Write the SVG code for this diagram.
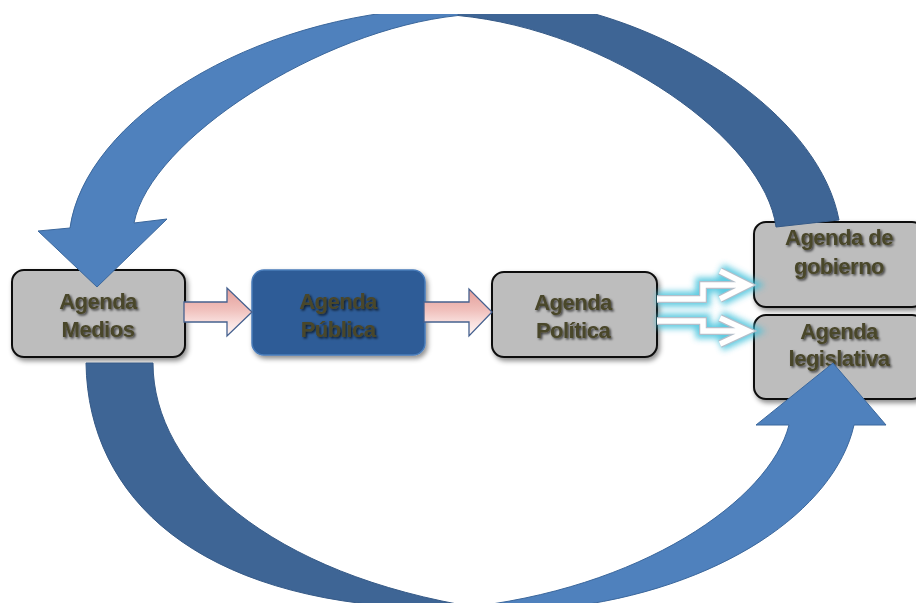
<svg xmlns="http://www.w3.org/2000/svg" width="916" height="603" viewBox="0 0 916 603">
<style>
.box{fill:#bdbdbd;stroke:#0a0a0a;stroke-width:2}
.pub{fill:#2d5c97;stroke:#4a7cba;stroke-width:1.5}
.lbl{font-family:"Liberation Sans",Arial,sans-serif;font-weight:bold;font-size:22px;letter-spacing:-0.5px;fill:#4a462a;text-anchor:middle}
.light{fill:#4f81bd;stroke:#3b679c;stroke-width:1}
.dark{fill:#3e6595;stroke:#365a87;stroke-width:1}
.pink{fill:url(#pk);stroke:#46618f;stroke-width:1.3}
.gl{fill:none;stroke:#45c2dc;stroke-width:15;opacity:0.85}
.go{fill:none;stroke:#b4bfca;stroke-width:8}
.gw{fill:none;stroke:#ffffff;stroke-width:5.5}
</style>
<defs>
<filter id="sh" x="-20%" y="-20%" width="140%" height="160%"><feDropShadow dx="2" dy="3" stdDeviation="2.5" flood-color="#000" flood-opacity="0.45"/></filter>
<filter id="ts" x="-20%" y="-30%" width="140%" height="160%"><feDropShadow dx="1.5" dy="1.5" stdDeviation="1.2" flood-color="#000" flood-opacity="0.7"/></filter>
<filter id="gf" x="-50%" y="-50%" width="200%" height="200%"><feGaussianBlur stdDeviation="3"/></filter>
<linearGradient id="pk" x1="0" y1="0" x2="0" y2="1">
<stop offset="0" stop-color="#e49e99"/>
<stop offset="0.45" stop-color="#f0c0bc"/>
<stop offset="0.72" stop-color="#f9e0de"/>
<stop offset="1" stop-color="#fdf6f5"/>
</linearGradient>
<clipPath id="clipTop"><rect x="0" y="14" width="916" height="589"/></clipPath>
</defs>
<rect width="916" height="603" fill="#ffffff"/>

<g id="agenda-medios">
<rect class="box" x="12" y="270" width="173" height="87" rx="12" filter="url(#sh)"/>
<text class="lbl" x="98" y="309" filter="url(#ts)">Agenda</text>
<text class="lbl" x="98" y="337" filter="url(#ts)">Medios</text>
</g>
<g id="agenda-publica">
<rect class="pub" x="252" y="270" width="173" height="85" rx="12" filter="url(#sh)"/>
<text class="lbl" x="338" y="309" filter="url(#ts)">Agenda</text>
<text class="lbl" x="338" y="337" filter="url(#ts)">Pública</text>
</g>
<g id="agenda-politica">
<rect class="box" x="492" y="272" width="165" height="85" rx="12" filter="url(#sh)"/>
<text class="lbl" x="573" y="310" filter="url(#ts)">Agenda</text>
<text class="lbl" x="573" y="338" filter="url(#ts)">Política</text>
</g>
<g id="agenda-gobierno">
<rect class="box" x="754" y="222" width="170" height="85" rx="12" filter="url(#sh)"/>
<text class="lbl" x="839" y="245" filter="url(#ts)">Agenda de</text>
<text class="lbl" x="839" y="274" filter="url(#ts)">gobierno</text>
</g>
<g id="agenda-legislativa">
<rect class="box" x="754" y="315" width="170" height="84" rx="12" filter="url(#sh)"/>
<text class="lbl" x="839" y="339" filter="url(#ts)">Agenda</text>
<text class="lbl" x="839" y="366" filter="url(#ts)">legislativa</text>
</g>

<g id="connectors">
<path class="pink" d="M184,302 L227,302 L227,288 L252,312 L227,336 L227,322 L184,322 Z"/>
<path class="pink" d="M424,302 L469,302 L469,289 L492,312 L469,336 L469,322 L424,322 Z"/>
<g id="glow-arrows">
<path class="gl" filter="url(#gf)" d="M657,299 H703 V285 H742 M720,271 L748,285 L720,299"/>
<path class="gl" filter="url(#gf)" d="M657,321 H703 V331 H744 M720,318 L748,331 L720,344"/>
<path class="go" d="M657,299 H703 V285 H742 M720,271 L748,285 L720,299"/>
<path class="go" d="M657,321 H703 V331 H744 M720,318 L748,331 L720,344"/>
<path class="gw" d="M657,299 H703 V285 H742 M720,271 L748,285 L720,299"/>
<path class="gw" d="M657,321 H703 V331 H744 M720,318 L748,331 L720,344"/>
</g>
<g id="top-arc" clip-path="url(#clipTop)">
<path class="dark" d="M572,8 C690,35 820,120 839,220 L776,227 C765,140 610,30 458,15.5 L458,8 Z"/>
<path class="light" d="M70,228 C85,120 250,15 440,8 L458,8 L458,15.5 C320,30 150,140 134,223 L167,219 L97,287 L38,231 Z"/>
</g>
<g id="bottom-arc">
<path class="dark" d="M86,363 L153,363 C153,470 270,575 480,608 L420,608 C200,600 88,500 86,363 Z"/>
<path class="light" d="M789,425 L756,425 L833,363 L886,425 L854,425 C835,510 720,590 560,608 L460,608 C640,590 770,500 789,425 Z"/>
</g>
</g>
</svg>
